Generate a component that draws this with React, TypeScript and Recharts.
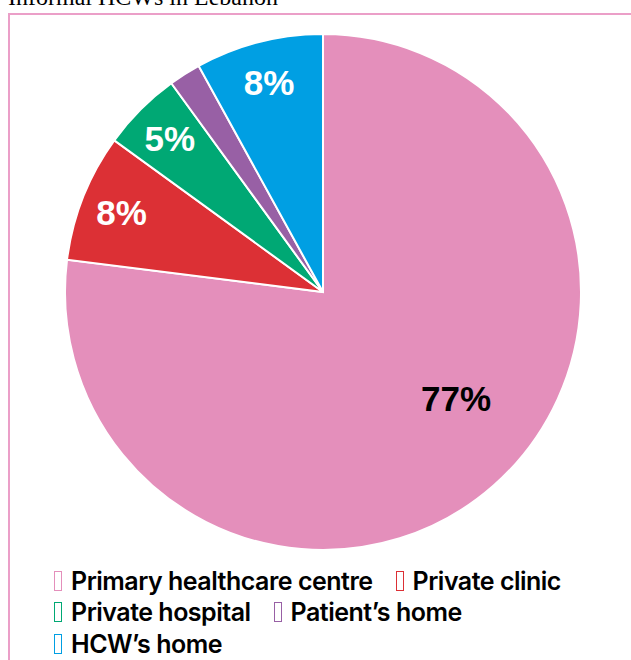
import React from 'react';
import { PieChart, Pie, Cell, Legend } from 'recharts';

const PLACES = ['Primary healthcare centre', 'Private clinic', 'Private hospital', "Patient’s home", 'HCW’s home'];
const SHARES = [77, 8, 5, 2, 8];
const COLORS = ['#e48fbb', '#dc3035', '#00a874', '#9860a5', '#009fe3'];
const LABELS = ['77%', '8%', '5%', '', '8%'];

const data = PLACES.map((name, i) => ({ name, value: SHARES[i] }));

const RAD = Math.PI / 180;

const renderLabel = (props: any) => {
  const { cx, cy, midAngle, outerRadius, index } = props;
  const text = LABELS[index];
  if (!text) return null;
  // big slice label sits a little closer to the centre and lower
  const big = index === 0;
  const r = big ? outerRadius * 0.66 : outerRadius * 0.84;
  const ang = big ? midAngle + 10 : midAngle;
  const x = cx + r * Math.cos(-ang * RAD);
  const y = cy + r * Math.sin(-ang * RAD);
  return (
    <text
      x={x}
      y={y}
      fill={big ? '#000' : '#fff'}
      textAnchor="middle"
      dominantBaseline="central"
      fontFamily="'Liberation Sans', Arial, sans-serif"
      fontWeight={700}
      fontSize={35}
    >
      {text}
    </text>
  );
};

const LegendBox = () => (
  <div style={{ display: 'flex', flexWrap: 'wrap', width: 540 }}>
    {PLACES.map((p, i) => (
      <div key={p} style={{ display: 'flex', alignItems: 'center', marginRight: 23, height: 31.5 }}>
        <span
          style={{
            display: 'inline-block',
            width: 6,
            height: 18,
            border: `1.5px solid ${COLORS[i]}`,
            marginRight: 9,
          }}
        />
        <span
          style={{
            fontFamily: "Inter, 'Liberation Sans', sans-serif",
            fontWeight: 600,
            fontSize: 25,
            letterSpacing: -0.5,
            color: '#000',
            whiteSpace: 'nowrap',
          }}
        >
          {p}
        </span>
      </div>
    ))}
  </div>
);

export default function App() {
  return (
    <div style={{ position: 'fixed', left: 0, top: 0, width: 631, height: 660, overflow: 'hidden', background: '#fff' }}>
      <div
        style={{
          position: 'absolute',
          left: 8,
          top: -15,
          fontFamily: "'Liberation Serif', 'Times New Roman', serif",
          fontSize: 24,
          lineHeight: '24px',
          color: '#000',
          whiteSpace: 'nowrap',
        }}
      >
        Informal HCWs in Lebanon
      </div>
      <div
        style={{
          position: 'absolute',
          left: 8,
          top: 13,
          width: 700,
          height: 700,
          borderTop: '2px solid #eb9fc8',
          borderLeft: '2px solid #eb9fc8',
        }}
      />
      <div style={{ position: 'absolute', left: 0, top: 0 }}>
        <PieChart width={631} height={660} margin={{ top: 0, right: 0, bottom: 0, left: 0 }}>
          <Pie
            data={data}
            dataKey="value"
            nameKey="name"
            cx={323}
            cy={292}
            outerRadius={258}
            startAngle={90}
            endAngle={-270}
            stroke="#fff"
            strokeWidth={2}
            label={renderLabel}
            labelLine={false}
            isAnimationActive={false}
          >
            {data.map((d, i) => (
              <Cell key={d.name} fill={COLORS[i]} />
            ))}
          </Pie>
          <Legend
            content={<LegendBox />}
            wrapperStyle={{ position: 'absolute', top: 565, left: 54, width: 540 }}
          />
        </PieChart>
      </div>
    </div>
  );
}
